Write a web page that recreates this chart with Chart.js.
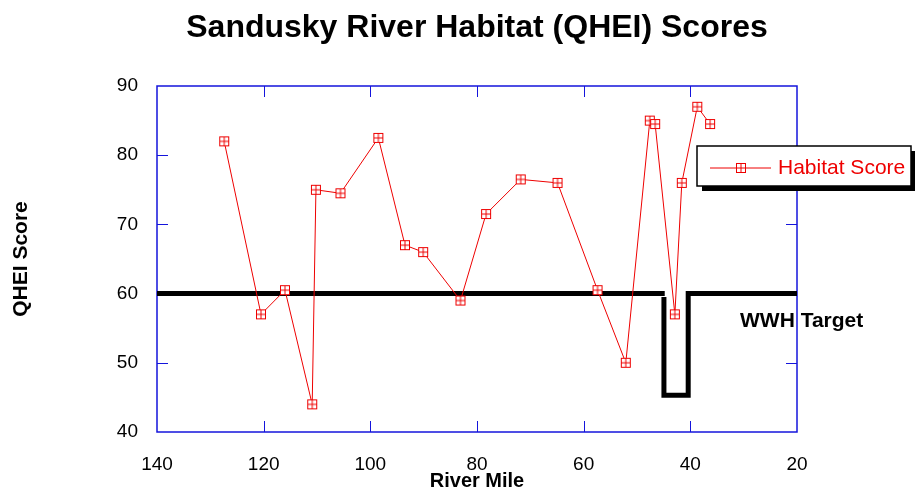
<!DOCTYPE html>
<html>
<head>
<meta charset="utf-8">
<title>Sandusky River Habitat (QHEI) Scores</title>
<script src="https://cdn.jsdelivr.net/npm/chart.js@4.4.1/dist/chart.umd.min.js"></script>
<style>
  html, body { margin: 0; padding: 0; background: #fff; }
  canvas { display: block; }
</style>
</head>
<body>
<canvas id="qhei" width="915" height="493"></canvas>
<script>
// 河川マイル（上流→下流）と QHEI スコア
const riverMile = [127.4, 120.5, 116, 110.9, 110.2, 105.6, 98.5, 93.5, 90.1, 83.1, 78.3,
                   71.8, 64.9, 57.4, 52.1, 47.6, 46.6, 42.9, 41.6, 38.7, 36.3];
const habitatScore = [82, 57, 60.5, 44, 75, 74.5, 82.5, 67, 66, 59, 71.5,
                      76.5, 76, 60.5, 50, 85, 84.5, 57, 76, 87, 84.5];

// WWH 目標ライン（途中で 45 まで落ちる区間あり）
const targetMile  = [140, 44.8, 44.9, 44.95, 44.95, 40.4, 40.4, 20];
const targetScore = [60,  60,   null, 59.5,  45.3,  45.3, 60,   60];

const xTicks = [140, 120, 100, 80, 60, 40, 20];
const yTicks = [90, 80, 70, 60, 50, 40];

const RED = '#ee0000';
const BLUE = '#1414dc';
const FONT = 'Arial, "Liberation Sans", sans-serif';

// 四角に十字のマーカー
function makeMarker(color) {
    const c = document.createElement('canvas');
    c.width = 12; c.height = 12;
    const g = c.getContext('2d');
    g.fillStyle = '#fff';
    g.fillRect(1, 1, 10, 10);
    g.strokeStyle = color;
    g.lineWidth = 1;
    g.strokeRect(1.5, 1.5, 9, 9);
    g.beginPath();
    g.moveTo(6, 1.5); g.lineTo(6, 10.5);
    g.moveTo(1.5, 6); g.lineTo(10.5, 6);
    g.stroke();
    return c;
}
const marker = makeMarker(RED);

// 青い枠と内向きの目盛り
const framePlugin = {
    id: 'frame',
    beforeDatasetsDraw(chart) {
        const {ctx, chartArea: a, scales: {x, y}} = chart;
        ctx.save();
        ctx.strokeStyle = BLUE;
        ctx.lineWidth = 1.5;
        ctx.strokeRect(a.left, a.top, a.right - a.left, a.bottom - a.top);
        ctx.lineWidth = 1;
        ctx.beginPath();
        xTicks.slice(1, -1).forEach(v => {
            const px = Math.round(x.getPixelForValue(v)) + 0.5;
            ctx.moveTo(px, a.top); ctx.lineTo(px, a.top + 11);
            ctx.moveTo(px, a.bottom); ctx.lineTo(px, a.bottom - 11);
        });
        yTicks.slice(1, -1).forEach(v => {
            const py = Math.round(y.getPixelForValue(v)) + 0.5;
            ctx.moveTo(a.left, py); ctx.lineTo(a.left + 11, py);
            ctx.moveTo(a.right, py); ctx.lineTo(a.right - 11, py);
        });
        ctx.stroke();
        ctx.restore();
    }
};

// 凡例ボックス（影付き）と WWH Target ラベル
const notesPlugin = {
    id: 'notes',
    afterDraw(chart) {
        const {ctx, scales: {x, y}} = chart;
        const ds = chart.data.datasets[0];
        ctx.save();

        ctx.font = 'bold 21px ' + FONT;
        ctx.fillStyle = '#000';
        ctx.textBaseline = 'middle';
        ctx.fillText('WWH Target', 740, y.getPixelForValue(56.0));

        const bx = 697, by = 146, bw = 214, bh = 40;
        ctx.fillStyle = '#000';
        ctx.fillRect(bx + 5, by + 5, bw, bh);
        ctx.fillStyle = '#fff';
        ctx.fillRect(bx, by, bw, bh);
        ctx.strokeStyle = '#000';
        ctx.lineWidth = 1.5;
        ctx.strokeRect(bx, by, bw, bh);

        const cy = by + 22;
        ctx.strokeStyle = ds.borderColor;
        ctx.lineWidth = 1;
        ctx.beginPath();
        ctx.moveTo(710, cy); ctx.lineTo(771, cy);
        ctx.stroke();
        ctx.drawImage(marker, 741 - 6, cy - 6);

        ctx.fillStyle = ds.borderColor;
        ctx.font = '21px ' + FONT;
        ctx.fillText(ds.label, 778, cy);
        ctx.restore();
    }
};

new Chart(document.getElementById('qhei'), {
    type: 'line',
    data: {
        datasets: [{
            label: 'Habitat Score',
            data: riverMile.map((m, i) => ({x: m, y: habitatScore[i]})),
            borderColor: RED,
            borderWidth: 1,
            pointStyle: marker,
            tension: 0,
            fill: false
        }, {
            label: 'WWH Target',
            data: targetMile.map((m, i) => ({x: m, y: targetScore[i]})),
            borderColor: '#000',
            borderWidth: 5,
            borderJoinStyle: 'miter',
            borderCapStyle: 'butt',
            pointRadius: 0,
            spanGaps: false,
            tension: 0,
            fill: false
        }]
    },
    options: {
        responsive: false,
        animation: false,
        layout: { padding: { left: 0, right: 118, top: 0, bottom: 0 } },
        plugins: {
            legend: { display: false },
            tooltip: { enabled: false },
            title: {
                display: true,
                fullSize: false,
                text: 'Sandusky River Habitat (QHEI) Scores',
                color: '#000',
                font: { family: FONT, size: 32, weight: 'bold', lineHeight: 1.2 },
                padding: { top: 9, bottom: 38.6 }
            }
        },
        scales: {
            x: {
                type: 'linear',
                reverse: true,
                min: 20,
                max: 140,
                afterFit(scale) { scale.height = 61; },
                afterBuildTicks(scale) { scale.ticks = xTicks.map(v => ({value: v})); },
                grid: { display: false },
                border: { display: false },
                ticks: { color: '#000', padding: 13, font: { family: FONT, size: 19 } },
                title: {
                    display: true,
                    text: 'River Mile',
                    color: '#000',
                    font: { family: FONT, size: 20, weight: 'bold', lineHeight: 1.2 },
                    padding: { top: 0, bottom: 0 }
                }
            },
            y: {
                min: 40,
                max: 90,
                afterFit(scale) { scale.width = 157; },
                afterBuildTicks(scale) { scale.ticks = yTicks.map(v => ({value: v})); },
                grid: { display: false },
                border: { display: false },
                ticks: { color: '#000', padding: 11, font: { family: FONT, size: 19 } },
                title: {
                    display: true,
                    text: 'QHEI Score',
                    color: '#000',
                    font: { family: FONT, size: 21, weight: 'bold', lineHeight: 1.2 },
                    padding: { top: 9, bottom: 0 }
                }
            }
        }
    },
    plugins: [framePlugin, notesPlugin]
});
</script>
</body>
</html>
